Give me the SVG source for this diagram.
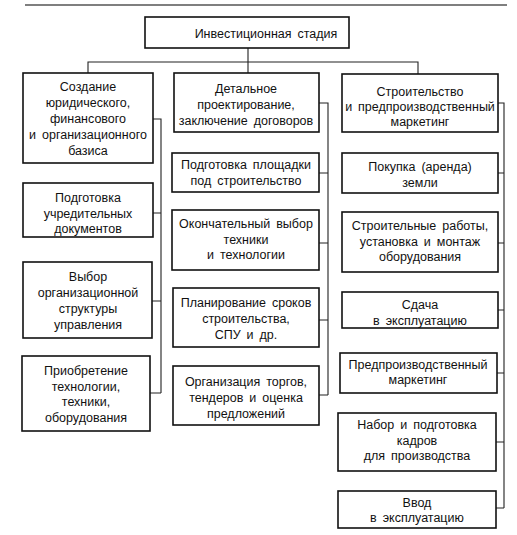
<svg xmlns="http://www.w3.org/2000/svg" width="517" height="535" viewBox="0 0 517 535">
<style>
.box{fill:#fff;stroke:#111;stroke-width:1.6}
.t{font-family:"Liberation Sans",Arial,sans-serif;font-size:12.5px;fill:#111;text-anchor:middle;word-spacing:2.5px}
.c{fill:none;stroke:#222;stroke-width:1.1}
</style>
<rect width="517" height="535" fill="#fff"/>
<line x1="25" y1="5" x2="507" y2="5" stroke="#555" stroke-width="1.5"/>
<g id="connectors">
<path class="c" d="M248 48V73M88 73V62H418V74"/>
<path class="c" d="M153 119H161V393M153 213H161M152 301H161M150 393H161"/>
<path class="c" d="M319 103H328V395M319 173H328M319 243H328M319 320H328M319 395H328"/>
<path class="c" d="M498 103H504V508M498 173H504M498 243H504M498 310H504M497 373H504M496 442H504M496 508H504"/>
</g>
<g id="root"><rect class="box" x="145" y="17" width="204" height="31"/><text class="t" x="266" y="38">Инвестиционная стадия</text></g>
<g id="c1a"><rect class="box" x="23" y="73" width="130" height="90"/><text class="t" x="88"><tspan x="88" y="91">Создание</tspan><tspan x="88" y="107">юридического,</tspan><tspan x="88" y="123">финансового</tspan><tspan x="88" y="139">и организационного</tspan><tspan x="88" y="155">базиса</tspan></text></g>
<g id="c1b"><rect class="box" x="23" y="183" width="130" height="54"/><text class="t"><tspan x="88" y="202">Подготовка</tspan><tspan x="88" y="218">учредительных</tspan><tspan x="88" y="233">документов</tspan></text></g>
<g id="c1c"><rect class="box" x="23" y="262" width="129" height="76"/><text class="t"><tspan x="88" y="281">Выбор</tspan><tspan x="88" y="297">организационной</tspan><tspan x="88" y="313">структуры</tspan><tspan x="88" y="329">управления</tspan></text></g>
<g id="c1d"><rect class="box" x="22" y="356" width="128" height="75"/><text class="t"><tspan x="86" y="375">Приобретение</tspan><tspan x="86" y="391">технологии,</tspan><tspan x="86" y="406">техники,</tspan><tspan x="86" y="422">оборудования</tspan></text></g>
<g id="c2a"><rect class="box" x="174" y="73" width="145" height="59"/><text class="t"><tspan x="246" y="93">Детальное</tspan><tspan x="246" y="109">проектирование,</tspan><tspan x="246" y="125">заключение договоров</tspan></text></g>
<g id="c2b"><rect class="box" x="172" y="153" width="147" height="39"/><text class="t"><tspan x="246" y="169">Подготовка площадки</tspan><tspan x="246" y="185">под строительство</tspan></text></g>
<g id="c2c"><rect class="box" x="172" y="210" width="147" height="60"/><text class="t"><tspan x="246" y="228">Окончательный выбор</tspan><tspan x="246" y="244">техники</tspan><tspan x="246" y="259">и технологии</tspan></text></g>
<g id="c2d"><rect class="box" x="173" y="288" width="146" height="59"/><text class="t"><tspan x="246" y="307">Планирование сроков</tspan><tspan x="246" y="323">строительства,</tspan><tspan x="246" y="339">СПУ и др.</tspan></text></g>
<g id="c2e"><rect class="box" x="173" y="366" width="146" height="59"/><text class="t"><tspan x="246" y="386">Организация торгов,</tspan><tspan x="246" y="402">тендеров и оценка</tspan><tspan x="246" y="418">предложений</tspan></text></g>
<g id="c3a"><rect class="box" x="342" y="74" width="156" height="58"/><text class="t"><tspan x="420" y="96">Строительство</tspan><tspan x="420" y="111">и предпроизводственный</tspan><tspan x="420" y="126">маркетинг</tspan></text></g>
<g id="c3b"><rect class="box" x="342" y="153" width="156" height="40"/><text class="t"><tspan x="420" y="171">Покупка (аренда)</tspan><tspan x="420" y="187">земли</tspan></text></g>
<g id="c3c"><rect class="box" x="342" y="212" width="156" height="60"/><text class="t"><tspan x="420" y="230">Строительные работы,</tspan><tspan x="420" y="246">установка и монтаж</tspan><tspan x="420" y="261">оборудования</tspan></text></g>
<g id="c3d"><rect class="box" x="342" y="292" width="156" height="36"/><text class="t"><tspan x="420" y="309">Сдача</tspan><tspan x="420" y="325">в эксплуатацию</tspan></text></g>
<g id="c3e"><rect class="box" x="340" y="353" width="157" height="40"/><text class="t"><tspan x="418" y="369">Предпроизводственный</tspan><tspan x="418" y="384">маркетинг</tspan></text></g>
<g id="c3f"><rect class="box" x="338" y="413" width="158" height="58"/><text class="t"><tspan x="417" y="429">Набор и подготовка</tspan><tspan x="417" y="445">кадров</tspan><tspan x="417" y="460">для производства</tspan></text></g>
<g id="c3g"><rect class="box" x="338" y="491" width="158" height="37"/><text class="t"><tspan x="417" y="507">Ввод</tspan><tspan x="417" y="522">в эксплуатацию</tspan></text></g>
</svg>
